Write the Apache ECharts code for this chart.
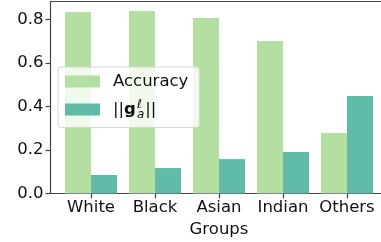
<!DOCTYPE html>
<html>
<head>
<meta charset="utf-8">
<script src="https://cdn.jsdelivr.net/npm/echarts@6/dist/echarts.min.js"></script>
<style>
html, body { margin: 0; padding: 0; background: #fff; overflow: hidden; }
#chart { width: 381px; height: 242px; }
</style>
</head>
<body>
<div id="chart"></div>
<script>
var groups = ['White', 'Black', 'Asian', 'Indian', 'Others'];
var accuracy = [0.834, 0.838, 0.806, 0.700, 0.278];
var gradNorm = [0.085, 0.117, 0.158, 0.191, 0.448];
var yTicks = [0, 0.2, 0.4, 0.6, 0.8];
var xTicks = [0, 1, 2, 3, 4];

var chart = echarts.init(document.getElementById('chart'));
var font = 'DejaVu Sans';
var spine = { color: '#444', width: 1.2 };
// plot runs past the right edge: 64px per group, 40.5px margin on both sides
var xMin = -0.633, xMax = 4.633;

chart.setOption({
    animation: false,
    textStyle: { fontFamily: font },
    grid: { left: 50.5, width: 337, top: 1.5, bottom: 48.5, outerBoundsMode: 'none', containLabel: false },
    legend: {
        orient: 'vertical',
        left: 58, top: 67,
        padding: [3.5, 11, 7, 7],
        itemGap: 6,
        itemWidth: 35, itemHeight: 12,
        icon: 'rect',
        backgroundColor: 'rgba(255,255,255,0.8)',
        borderColor: '#d6d6d6', borderWidth: 1, borderRadius: 3,
        textStyle: {
            fontFamily: font, fontSize: 16.5, lineHeight: 22, color: '#111', padding: [0, 0, 0, 8],
            rich: {
                n: { fontSize: 16.5, lineHeight: 22, fontFamily: font, color: '#111' },
                g: { fontSize: 16.5, lineHeight: 22, fontWeight: 'bold', fontFamily: font, color: '#111' },
                sup: { fontSize: 12, width: 0, verticalAlign: 'top', lineHeight: 22, padding: [0, 0, 0, 1], fontStyle: 'italic', fontFamily: font, color: '#111' },
                sub: { fontSize: 12, verticalAlign: 'bottom', lineHeight: 22, padding: [0, 1, 0, 0], fontStyle: 'italic', fontFamily: font, color: '#111' }
            }
        },
        formatter: function (name) {
            if (name === 'grad') return '{n|||}{g|g}{sup|\u2113}{sub|a}{n|||}';
            return name;
        },
        data: ['Accuracy', 'grad']
    },
    xAxis: [
        {
            type: 'value',
            min: xMin, max: xMax,
            name: 'Groups', nameLocation: 'middle', nameGap: 26.5,
            nameTextStyle: { fontFamily: font, fontSize: 16.5, color: '#111' },
            splitLine: { show: false },
            axisLine: { show: true, onZero: false, lineStyle: spine },
            axisTick: { show: true, length: 5, customValues: xTicks, lineStyle: spine },
            axisLabel: {
                customValues: xTicks,
                fontFamily: font, fontSize: 16.5, color: '#111', margin: 6,
                formatter: function (v) { return groups[Math.round(v)]; }
            }
        },
        {
            // top spine
            type: 'value', position: 'top',
            min: xMin, max: xMax,
            splitLine: { show: false },
            axisLine: { show: true, onZero: false, lineStyle: spine },
            axisTick: { show: false },
            axisLabel: { show: false }
        }
    ],
    yAxis: {
        type: 'value',
        min: 0, max: 0.882,
        splitLine: { show: false },
        axisLine: { show: true, onZero: false, lineStyle: spine },
        axisTick: { show: true, length: 5, customValues: yTicks, lineStyle: spine },
        axisLabel: {
            customValues: yTicks,
            fontFamily: font, fontSize: 16.5, color: '#111', margin: 7,
            formatter: function (v) { return v.toFixed(1); }
        }
    },
    series: [
        {
            name: 'Accuracy', type: 'bar',
            barWidth: 26, barGap: '0%',
            itemStyle: { color: '#b3dfa1' },
            data: accuracy.map(function (v, i) { return [i, v]; })
        },
        {
            name: 'grad', type: 'bar',
            barWidth: 26, barGap: '0%',
            itemStyle: { color: '#60bba9' },
            data: gradNorm.map(function (v, i) { return [i, v]; })
        }
    ]
});
</script>
</body>
</html>
